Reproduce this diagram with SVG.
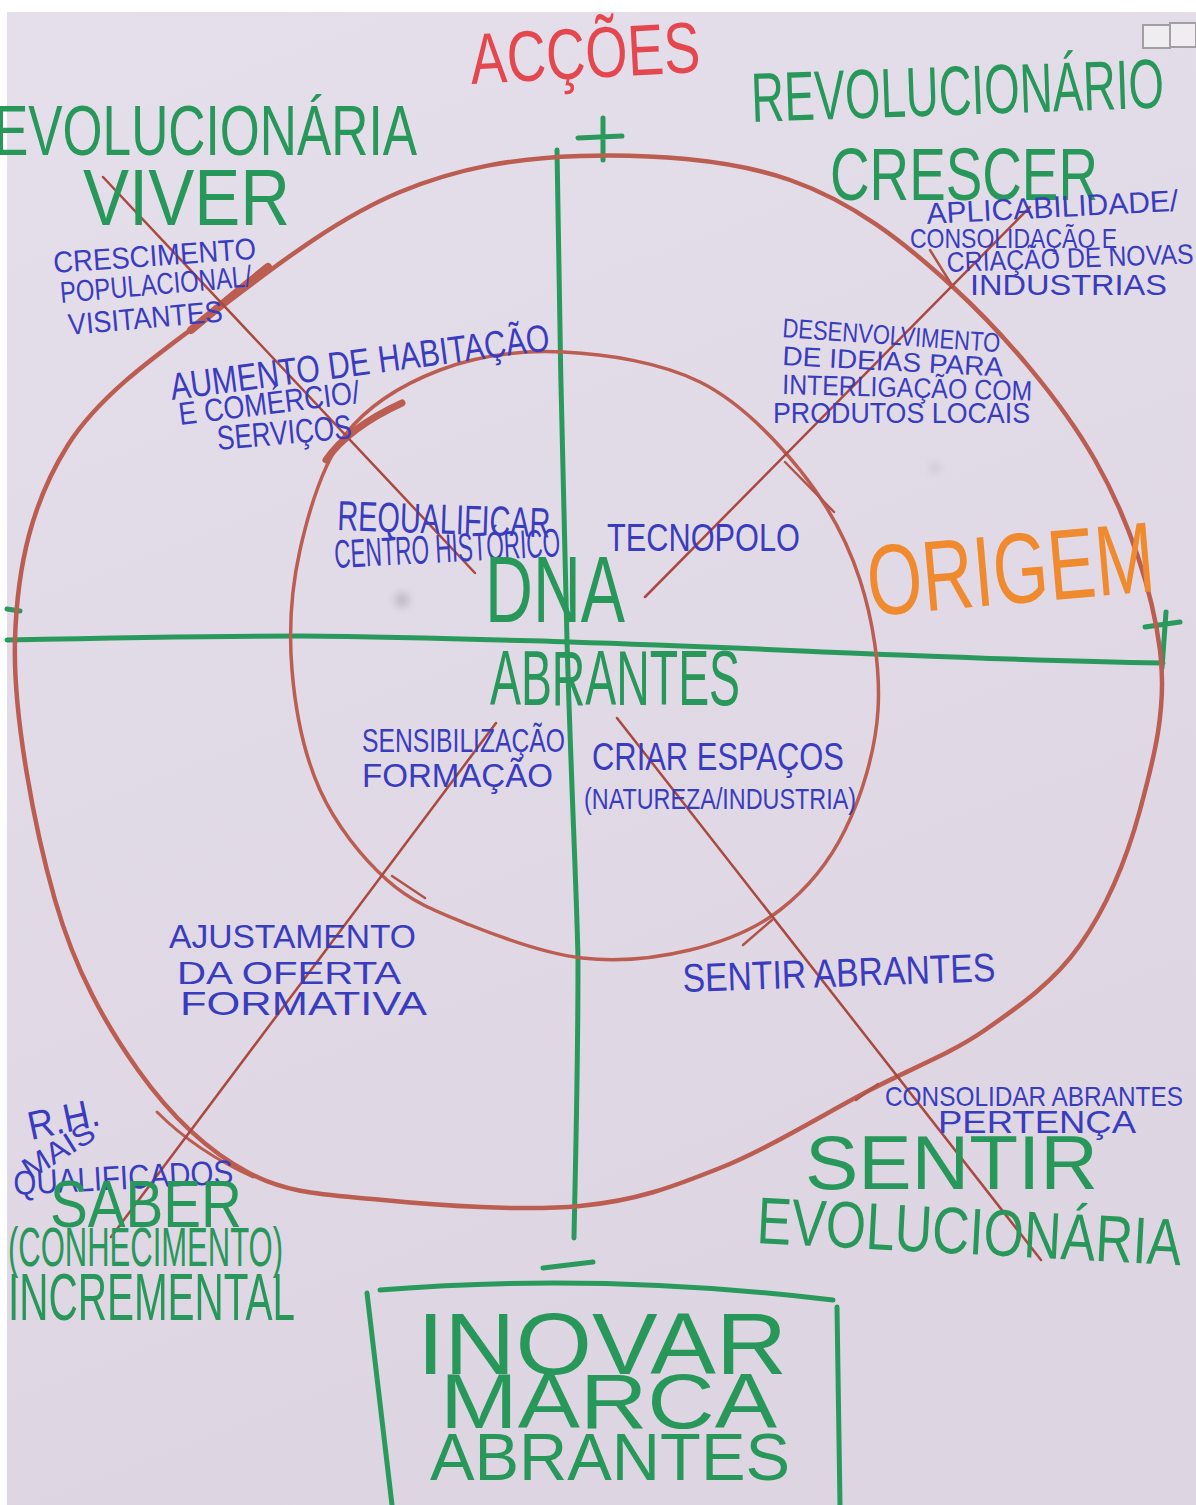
<svg xmlns="http://www.w3.org/2000/svg" width="1196" height="1505" viewBox="0 0 1196 1505">
  <defs>
    <linearGradient id="board" x1="0" y1="0" x2="0.3" y2="1">
      <stop offset="0" stop-color="#e5dfeb"/>
      <stop offset="1" stop-color="#ddd5e2"/>
    </linearGradient>
    <filter id="soft" x="-50%" y="-50%" width="200%" height="200%">
      <feGaussianBlur stdDeviation="4"/>
    </filter>
    <style>
      text { font-family: "Liberation Sans", Arial, sans-serif; }
      .gt { fill: #27985a; }
      .bt { fill: #3a3cbf; }
      .rt { fill: #e5474f; }
      .ot { fill: #f08a2e; }
      .axis { fill: none; stroke: #2a9a5c; stroke-width: 5; stroke-linecap: round; stroke-linejoin: round; }
      .ring { fill: none; stroke: #bb5d51; stroke-linecap: round; }
      .diag { fill: none; stroke: #a9493f; stroke-width: 2.5; stroke-linecap: round; }
      .tick { fill: none; stroke: #b0544a; stroke-width: 2.5; stroke-linecap: round; }
    </style>
  </defs>

  <!-- whiteboard surface -->
  <rect x="0" y="0" width="1196" height="1505" fill="#ffffff"/>
  <rect x="7" y="12" width="1189" height="1493" fill="url(#board)"/>

  <!-- window reflection, top right -->
  <g id="window">
    <rect x="1143" y="25" width="27" height="23" fill="#efedf0" stroke="#a39ea4" stroke-width="2"/>
    <rect x="1170" y="23" width="26" height="24" fill="#efedf0" stroke="#a39ea4" stroke-width="2"/>
  </g>

  <!-- smudges on the board -->
  <circle cx="402" cy="600" r="7" fill="#9c97a1" opacity="0.55" filter="url(#soft)"/>
  <circle cx="935" cy="468" r="5" fill="#a8a3ad" opacity="0.4" filter="url(#soft)"/>

  <!-- axes -->
  <g id="axes">
    <path class="axis" d="M557,150 C559,300 563,500 567,640 C571,780 577,900 578,960 C578,1080 575,1180 574,1238"/>
    <path class="axis" d="M7,640 C100,638 220,636 300,636 C420,637 500,640 570,642 C700,646 800,651 900,655 C1000,659 1100,662 1163,663"/>
    <path class="axis" d="M578,138 L622,136 M603,118 L603,160"/>
    <path class="axis" d="M7,609 L20,611"/>
    <path class="axis" d="M1166,612 L1162,668 M1145,627 L1180,622"/>
    <path class="axis" d="M543,1268 L593,1262"/>
  </g>

  <!-- rings and diagonal flows -->
  <g id="connectors">
    <path id="outer-ring" class="ring" stroke-width="4.5" d="M580,156 C645,154 727.8,158.2 790,180 C852.2,201.8 902.2,240.3 953,287 C1003.8,333.7 1060.5,399.5 1095,460 C1129.5,520.5 1152.5,591.7 1160,650 C1167.5,708.3 1153.3,760.8 1140,810 C1126.7,859.2 1105.8,908.3 1080,945 C1054.2,981.7 1020,1005.8 985,1030 C950,1054.2 914.2,1067 870,1090 C825.8,1113 768.3,1148.7 720,1168 C671.7,1187.3 636.2,1200.7 580,1206 C523.8,1211.3 438.2,1205.5 383,1200 C327.8,1194.5 289.8,1194.7 249,1173 C208.2,1151.3 170.3,1115.5 138,1070 C105.7,1024.5 75.5,971.7 55,900 C34.5,828.3 12.8,715.8 15,640 C17.2,564.2 32.5,501.3 68,445 C103.5,388.7 172.7,344.2 228,302 C283.3,259.8 341.3,216.3 400,192 C458.7,167.7 515,158 580,156 Z"/>
    <path id="inner-ring" class="ring" stroke-width="3.5" d="M563,352 C606.3,354 660.5,362.3 700,382 C739.5,401.7 773.3,437 800,470 C826.7,503 847,540 860,580 C873,620 880.5,668.3 878,710 C875.5,751.7 861.3,796.7 845,830 C828.7,863.3 805.8,890 780,910 C754.2,930 723,942 690,950 C657,958 618.7,962.2 582,958 C545.3,953.8 502.5,938 470,925 C437.5,912 412,902.5 387,880 C362,857.5 335.8,825 320,790 C304.2,755 295.3,710 292,670 C288.7,630 291.2,589.2 300,550 C308.8,510.8 321.7,465 345,435 C368.3,405 403.7,383.8 440,370 C476.3,356.2 519.7,350 563,352 Z"/>
    <!-- retraced marker strokes -->
    <path class="ring" stroke-width="8" d="M191,330 C215,310 245,285 268,267"/>
    <path class="ring" stroke-width="7" d="M326,460 C340,440 365,420 402,403"/>
    <path class="ring" stroke-width="3" d="M157,1112 C185,1140 220,1162 253,1177"/>

    <path class="diag" d="M103,177 L475,573"/>
    <path class="diag" d="M645,597 L1030,207"/>
    <path class="diag" d="M111,1237 L496,723"/>
    <path class="diag" d="M617,718 L1041,1260"/>

    <!-- direction ticks -->
    <path class="tick" d="M930,250 L953,287"/>
    <path class="tick" d="M785,462 L834,512"/>
    <path class="tick" d="M392,876 L425,898"/>
    <path class="tick" d="M743,945 L772,920"/>
    <path class="tick" d="M856,1100 L878,1084"/>
  </g>

  <!-- headings -->
  <g id="acoes">
    <text class="rt" x="470" y="78" font-size="72" textLength="230" lengthAdjust="spacingAndGlyphs" transform="rotate(-3 585 50)">ACÇÕES</text>
  </g>
  <g id="evolucionaria-viver">
    <text class="gt" x="-6" y="155" font-size="70" textLength="423" lengthAdjust="spacingAndGlyphs">EVOLUCIONÁRIA</text>
    <text class="gt" x="83" y="225" font-size="80" textLength="207" lengthAdjust="spacingAndGlyphs">VIVER</text>
  </g>
  <g id="revolucionario-crescer">
    <text class="gt" x="752" y="122" font-size="70" textLength="413" lengthAdjust="spacingAndGlyphs" transform="rotate(-2 752 122)">REVOLUCIONÁRIO</text>
    <text class="gt" x="830" y="200" font-size="74" textLength="268" lengthAdjust="spacingAndGlyphs">CRESCER</text>
  </g>

  <!-- top-left quadrant notes -->
  <g id="crescimento">
    <text class="bt" x="54" y="273" font-size="30" textLength="203" lengthAdjust="spacingAndGlyphs" transform="rotate(-4 54 273)">CRESCIMENTO</text>
    <text class="bt" x="61" y="303" font-size="30" textLength="192" lengthAdjust="spacingAndGlyphs" transform="rotate(-5 61 303)">POPULACIONAL/</text>
    <text class="bt" x="69" y="335" font-size="30" textLength="155" lengthAdjust="spacingAndGlyphs" transform="rotate(-5 69 335)">VISITANTES</text>
  </g>
  <g id="aumento">
    <text class="bt" x="172" y="400" font-size="38" textLength="382" lengthAdjust="spacingAndGlyphs" transform="rotate(-7.5 172 400)">AUMENTO DE HABITAÇÃO</text>
    <text class="bt" x="180" y="425" font-size="32" textLength="182" lengthAdjust="spacingAndGlyphs" transform="rotate(-7 180 425)">E COMÉRCIO/</text>
    <text class="bt" x="218" y="450" font-size="34" textLength="135" lengthAdjust="spacingAndGlyphs" transform="rotate(-5 218 450)">SERVIÇOS</text>
  </g>

  <!-- top-right quadrant notes -->
  <g id="aplicabilidade">
    <text class="bt" x="927" y="224" font-size="30" textLength="252" lengthAdjust="spacingAndGlyphs" transform="rotate(-3 927 224)">APLICABILIDADE/</text>
    <text class="bt" x="910" y="248" font-size="28" textLength="207" lengthAdjust="spacingAndGlyphs">CONSOLIDAÇÃO E</text>
    <text class="bt" x="947" y="272" font-size="28" textLength="247" lengthAdjust="spacingAndGlyphs" transform="rotate(-2 947 272)">CRIAÇÃO DE NOVAS</text>
    <text class="bt" x="970" y="295" font-size="30" textLength="197" lengthAdjust="spacingAndGlyphs">INDUSTRIAS</text>
  </g>
  <g id="desenvolvimento">
    <text class="bt" x="782" y="337" font-size="27" textLength="218" lengthAdjust="spacingAndGlyphs" transform="rotate(4 782 337)">DESENVOLVIMENTO</text>
    <text class="bt" x="782" y="365" font-size="27" textLength="221" lengthAdjust="spacingAndGlyphs" transform="rotate(3 782 365)">DE IDEIAS PARA</text>
    <text class="bt" x="782" y="394" font-size="28" textLength="250" lengthAdjust="spacingAndGlyphs" transform="rotate(1.5 782 394)">INTERLIGAÇÃO COM</text>
    <text class="bt" x="773" y="423" font-size="30" textLength="257" lengthAdjust="spacingAndGlyphs">PRODUTOS LOCAIS</text>
  </g>

  <!-- inner ring notes -->
  <g id="requalificar">
    <text class="bt" x="337" y="530" font-size="42" textLength="213" lengthAdjust="spacingAndGlyphs" transform="rotate(2 337 530)">REQUALIFICAR</text>
    <text class="bt" x="335" y="568" font-size="40" textLength="226" lengthAdjust="spacingAndGlyphs" transform="rotate(-3 335 568)">CENTRO HISTÓRICO</text>
  </g>
  <g id="tecnopolo">
    <text class="bt" x="607" y="551" font-size="38" textLength="193" lengthAdjust="spacingAndGlyphs">TECNOPOLO</text>
  </g>
  <g id="dna-abrantes">
    <text class="gt" x="485" y="622" font-size="95" textLength="140" lengthAdjust="spacingAndGlyphs">DNA</text>
    <text class="gt" x="490" y="705" font-size="77" textLength="250" lengthAdjust="spacingAndGlyphs">ABRANTES</text>
  </g>
  <g id="origem">
    <text class="ot" x="870" y="616" font-size="100" textLength="288" lengthAdjust="spacingAndGlyphs" transform="rotate(-5 870 616)">ORIGEM</text>
  </g>
  <g id="sensibilizacao">
    <text class="bt" x="362" y="752" font-size="34" textLength="203" lengthAdjust="spacingAndGlyphs">SENSIBILIZAÇÃO</text>
    <text class="bt" x="362" y="787" font-size="34" textLength="191" lengthAdjust="spacingAndGlyphs">FORMAÇÃO</text>
  </g>
  <g id="criar-espacos">
    <text class="bt" x="592" y="770" font-size="38" textLength="252" lengthAdjust="spacingAndGlyphs">CRIAR ESPAÇOS</text>
    <text class="bt" x="584" y="809" font-size="30" textLength="272" lengthAdjust="spacingAndGlyphs">(NATUREZA/INDUSTRIA)</text>
  </g>

  <!-- bottom quadrant notes -->
  <g id="ajustamento">
    <text class="bt" x="169" y="948" font-size="34" textLength="247" lengthAdjust="spacingAndGlyphs">AJUSTAMENTO</text>
    <text class="bt" x="177" y="984" font-size="32" textLength="224" lengthAdjust="spacingAndGlyphs">DA OFERTA</text>
    <text class="bt" x="180" y="1015" font-size="34" textLength="247" lengthAdjust="spacingAndGlyphs">FORMATIVA</text>
  </g>
  <g id="sentir-abrantes">
    <text class="bt" x="683" y="992" font-size="40" textLength="313" lengthAdjust="spacingAndGlyphs" transform="rotate(-2 683 992)">SENTIR ABRANTES</text>
  </g>
  <g id="consolidar">
    <text class="bt" x="885" y="1106" font-size="28" textLength="298" lengthAdjust="spacingAndGlyphs">CONSOLIDAR ABRANTES</text>
    <text class="bt" x="938" y="1133" font-size="32" textLength="198" lengthAdjust="spacingAndGlyphs">PERTENÇA</text>
  </g>
  <g id="sentir-evolucionaria">
    <text class="gt" x="805" y="1189" font-size="76" textLength="293" lengthAdjust="spacingAndGlyphs">SENTIR</text>
    <text class="gt" x="756" y="1243" font-size="66" textLength="425" lengthAdjust="spacingAndGlyphs" transform="rotate(3 756 1243)">EVOLUCIONÁRIA</text>
  </g>
  <g id="saber">
    <text class="bt" x="31" y="1140" font-size="40" textLength="72" lengthAdjust="spacingAndGlyphs" transform="rotate(-12 31 1140)">R.H.</text>
    <text class="bt" x="30" y="1180" font-size="30" textLength="80" lengthAdjust="spacingAndGlyphs" transform="rotate(-32 30 1180)">MAIS</text>
    <text class="bt" x="14" y="1195" font-size="34" textLength="220" lengthAdjust="spacingAndGlyphs" transform="rotate(-3 14 1195)">QUALIFICADOS</text>
    <text class="gt" x="50" y="1227" font-size="66" textLength="192" lengthAdjust="spacingAndGlyphs">SABER</text>
    <text class="gt" x="8" y="1266" font-size="56" textLength="275" lengthAdjust="spacingAndGlyphs">(CONHECIMENTO)</text>
    <text class="gt" x="8" y="1320" font-size="66" textLength="287" lengthAdjust="spacingAndGlyphs">INCREMENTAL</text>
  </g>

  <!-- framed conclusion at the bottom -->
  <g id="inovar">
    <path class="axis" stroke-width="4" d="M380,1290 Q600,1272 833,1300"/>
    <path class="axis" stroke-width="3" d="M367,1293 L392,1505"/>
    <path class="axis" stroke-width="3" d="M837,1307 L840,1505"/>
    <text class="gt" x="417" y="1374" font-size="88" textLength="370" lengthAdjust="spacingAndGlyphs">INOVAR</text>
    <text class="gt" x="440" y="1428" font-size="78" textLength="337" lengthAdjust="spacingAndGlyphs">MARCA</text>
    <text class="gt" x="430" y="1480" font-size="66" textLength="360" lengthAdjust="spacingAndGlyphs">ABRANTES</text>
  </g>
</svg>
